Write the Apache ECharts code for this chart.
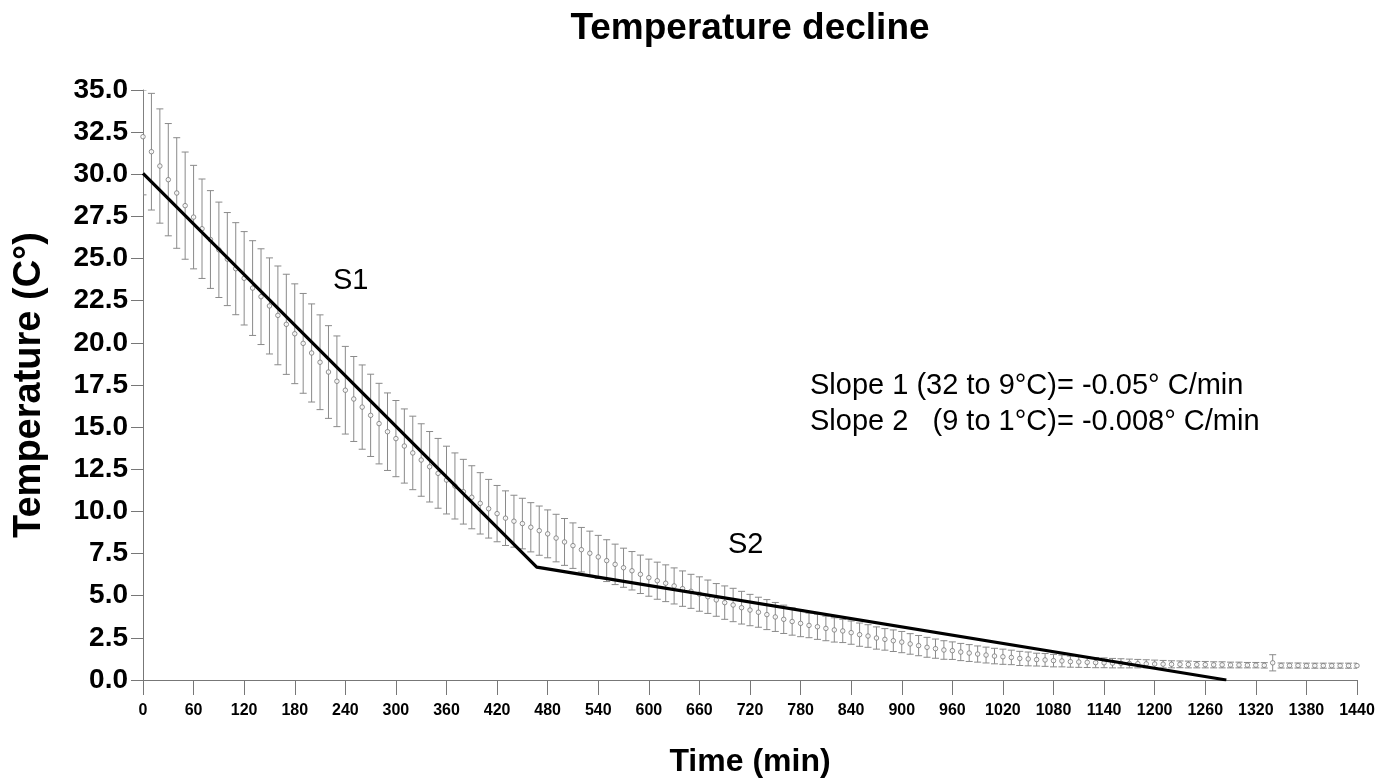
<!DOCTYPE html>
<html>
<head>
<meta charset="utf-8">
<script src="https://cdn.jsdelivr.net/npm/echarts@6/dist/echarts.min.js"></script>
<style>
html,body{margin:0;padding:0;background:#fff;}
#chart{width:1395px;height:780px;}
</style>
</head>
<body>
<div id="chart"></div>
<script>
const times = [0,10,20,30,40,50,60,70,80,90,100,110,120,130,140,150,160,170,180,190,
200,210,220,230,240,250,260,270,280,290,300,310,320,330,340,350,360,370,380,390,
400,410,420,430,440,450,460,470,480,490,500,510,520,530,540,550,560,570,580,590,
600,610,620,630,640,650,660,670,680,690,700,710,720,730,740,750,760,770,780,790,
800,810,820,830,840,850,860,870,880,890,900,910,920,930,940,950,960,970,980,990,
1000,1010,1020,1030,1040,1050,1060,1070,1080,1090,1100,1110,1120,1130,1140,1150,1160,1170,1180,1190,
1200,1210,1220,1230,1240,1250,1260,1270,1280,1290,1300,1310,1320,1330,1340,1350,1360,1370,1380,1390,
1400,1410,1420,1430,1440];

const meanTemp = [32.23,31.34,30.49,29.68,28.89,28.14,27.46,26.77,26.13,25.52,24.97,24.40,23.83,23.25,22.74,22.19,21.63,21.10,20.54,19.97,
19.40,18.85,18.27,17.72,17.19,16.67,16.19,15.70,15.21,14.73,14.32,13.88,13.47,13.05,12.65,12.26,11.86,11.51,11.17,10.84,
10.48,10.16,9.87,9.60,9.42,9.28,9.06,8.86,8.67,8.42,8.19,7.97,7.73,7.52,7.30,7.08,6.86,6.66,6.48,6.27,
6.07,5.89,5.74,5.58,5.42,5.26,5.10,4.94,4.75,4.59,4.45,4.29,4.15,4.02,3.88,3.74,3.60,3.47,3.36,3.24,
3.16,3.06,2.97,2.91,2.81,2.69,2.61,2.49,2.41,2.33,2.25,2.14,2.04,1.94,1.86,1.78,1.74,1.66,1.60,1.54,
1.48,1.42,1.38,1.34,1.28,1.25,1.21,1.19,1.15,1.13,1.09,1.07,1.05,1.03,1.02,1.00,0.99,0.98,0.97,0.96,
0.95,0.94,0.93,0.93,0.92,0.91,0.91,0.90,0.90,0.89,0.89,0.88,0.88,0.87,1.02,0.86,0.86,0.86,0.85,0.85,
0.85,0.85,0.85,0.85,0.85];

const sdTemp = [3.45,3.46,3.39,3.33,3.28,3.18,3.07,2.95,2.90,2.83,2.76,2.73,2.77,2.81,2.84,2.85,2.93,2.97,2.96,2.96,
2.91,2.81,2.75,2.69,2.60,2.52,2.50,2.44,2.39,2.30,2.26,2.20,2.18,2.15,2.09,2.07,2.01,1.96,1.92,1.87,
1.82,1.74,1.67,1.62,1.54,1.50,1.46,1.46,1.42,1.41,1.39,1.35,1.32,1.31,1.28,1.24,1.20,1.16,1.14,1.14,
1.10,1.10,1.09,1.07,1.05,1.01,1.02,0.99,0.97,0.99,0.99,0.97,0.93,0.89,0.89,0.86,0.84,0.81,0.79,0.73,
0.75,0.73,0.72,0.69,0.69,0.69,0.67,0.66,0.64,0.64,0.63,0.61,0.60,0.59,0.57,0.55,0.52,0.51,0.50,0.48,
0.47,0.46,0.45,0.43,0.42,0.41,0.38,0.38,0.37,0.35,0.33,0.32,0.31,0.30,0.29,0.28,0.27,0.26,0.25,0.24,
0.23,0.22,0.21,0.20,0.20,0.19,0.19,0.18,0.18,0.17,0.17,0.16,0.16,0.16,0.48,0.15,0.15,0.15,0.15,0.15,
0.15,0.15,0.15,0.15,0.15];

// piecewise fitted lines S1 and S2
const fitTimes = [0, 467, 1285];
const fitTemps = [30.05, 6.70, 0.0];

const titleText = 'Temperature decline';
const xName = 'Time (min)';
const yName = 'Temperature (C°)';
const slopeLines = ['Slope 1 (32 to 9°C)= -0.05° C/min', 'Slope 2   (9 to 1°C)= -0.008° C/min'];

const FONT = "'Liberation Sans', Arial, Helvetica, sans-serif";

const barData = times.map((t, i) => [t, meanTemp[i], sdTemp[i]]);
const ptData = times.map((t, i) => [t, meanTemp[i]]);
const fitData = fitTimes.map((t, i) => [t, fitTemps[i]]);

const chart = echarts.init(document.getElementById('chart'), null, {renderer: 'canvas'});
const barColor = '#8a8a8a';

chart.setOption({
  animation: false,
  backgroundColor: '#ffffff',
  grid: {left: 143, right: 38, top: 90, bottom: 100, containLabel: false, outerBoundsMode: 'none'},
  xAxis: {
    type: 'value', min: 0, max: 1440, interval: 60,
    name: xName, nameLocation: 'middle', nameGap: 66,
    nameTextStyle: {fontFamily: FONT, fontWeight: 'bold', fontSize: 32, color: '#000'},
    axisLine: {show: true, onZero: false, lineStyle: {color: '#777', width: 1}},
    axisTick: {show: true, length: 15, lineStyle: {color: '#777'}},
    axisLabel: {margin: 23, fontFamily: FONT, fontWeight: 'bold', fontSize: 16, color: '#000',
      formatter: v => String(v)},
    splitLine: {show: false}
  },
  yAxis: {
    type: 'value', min: 0, max: 35, interval: 2.5,
    name: yName, nameLocation: 'middle', nameGap: 94, nameRotate: 90,
    nameTextStyle: {fontFamily: FONT, fontWeight: 'bold', fontSize: 38, color: '#000'},
    axisLine: {show: true, onZero: false, lineStyle: {color: '#777', width: 1}},
    axisTick: {show: true, length: 12, lineStyle: {color: '#777'}},
    axisLabel: {margin: 15, fontFamily: FONT, fontWeight: 'bold', fontSize: 28, color: '#000',
      formatter: v => v.toFixed(1)},
    splitLine: {show: false}
  },
  graphic: [
    {type: 'text', x: 750, y: 29, z: 10, style: {text: titleText, font: "bold 37px " + FONT, fill: '#000', align: 'center', textAlign: 'center', verticalAlign: 'middle', textVerticalAlign: 'middle'}},
    {type: 'text', x: 333, y: 281, z: 10, style: {text: 'S1', font: "29px " + FONT, fill: '#000', align: 'left', verticalAlign: 'middle', textVerticalAlign: 'middle'}},
    {type: 'text', x: 728, y: 545, z: 10, style: {text: 'S2', font: "29px " + FONT, fill: '#000', align: 'left', verticalAlign: 'middle', textVerticalAlign: 'middle'}},
    {type: 'text', x: 810, y: 386, z: 10, style: {text: slopeLines[0], font: "29px " + FONT, fill: '#000', align: 'left', verticalAlign: 'middle', textVerticalAlign: 'middle'}},
    {type: 'text', x: 810, y: 422, z: 10, style: {text: slopeLines[1], font: "29px " + FONT, fill: '#000', align: 'left', verticalAlign: 'middle', textVerticalAlign: 'middle'}}
  ],
  series: [
    {
      type: 'custom', name: 'sd', z: 1, clip: true,
      data: barData,
      encode: {x: 0, y: 1},
      renderItem: function (params, api) {
        const t = api.value(0), m = api.value(1), s = api.value(2);
        const top = api.coord([t, Math.min(m + s, 35)]);
        const bot = api.coord([t, m - s]);
        const hw = 3.5;
        const st = {stroke: barColor, lineWidth: 1};
        return {
          type: 'group',
          children: [
            {type: 'line', shape: {x1: top[0], y1: top[1], x2: bot[0], y2: bot[1]}, style: st},
            {type: 'line', shape: {x1: top[0] - hw, y1: top[1], x2: top[0] + hw, y2: top[1]}, style: st},
            {type: 'line', shape: {x1: bot[0] - hw, y1: bot[1], x2: bot[0] + hw, y2: bot[1]}, style: st}
          ]
        };
      }
    },
    {
      type: 'scatter', name: 'mean', z: 2,
      data: ptData, symbol: 'circle', symbolSize: 4.5,
      itemStyle: {color: '#ffffff', borderColor: '#777', borderWidth: 1}
    },
    {
      type: 'line', name: 'fit', z: 3,
      data: fitData, symbol: 'none',
      lineStyle: {color: '#000', width: 3.2}
    }
  ]
});
</script>
</body>
</html>
